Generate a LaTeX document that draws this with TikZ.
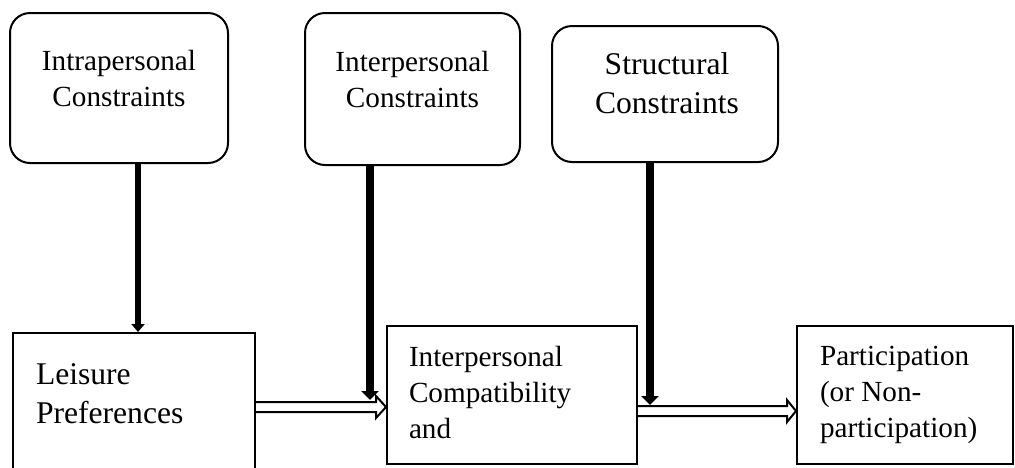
\documentclass[tikz,border=0pt]{standalone}
\usepackage{fontspec}
\setmainfont{Liberation Serif}
\usepackage{tikz}
\usetikzlibrary{arrows.meta,calc,positioning}

\begin{document}
\begin{tikzpicture}[x=0.5pt,y=-0.5pt,line width=1pt,
                    top node/.style={draw,rounded corners=10pt,inner sep=0pt},
                    bottom node/.style={draw,inner sep=0pt},
                    small text/.style={inner sep=0pt,font=\fontsize{14.6}{18}\selectfont},
                    big text/.style={inner sep=0pt,font=\fontsize{15.8}{19.5}\selectfont},
                    thin arrow/.style={-{Triangle[length=4pt,width=6.5pt]},line width=2.8pt},
                    thick arrow/.style={-{Triangle[length=4.5pt,width=8.5pt]},line width=4pt},
                    hollow arrow/.style={line width=1pt,line join=miter}]
  \useasboundingbox (0,0) rectangle (1015,467);
  % constraint boxes
  \node[top node,minimum width=109pt,minimum height=75pt] (intra) at (119,88) {};
  \node[top node,minimum width=107.5pt,minimum height=76pt] (inter) at (412.5,89) {};
  \node[top node,minimum width=113pt,minimum height=68pt] (struct) at (665,94) {};
  \node[small text,align=center,anchor=base] (intra text) at (119,106) {Intrapersonal\\Constraints};
  \node[small text,align=center,anchor=base] (inter text) at (412.5,107) {Interpersonal\\Constraints};
  \node[big text,align=center,anchor=base] (struct text) at (667,113) {Structural\\Constraints};
  % process boxes
  \node[bottom node,minimum width=121pt,minimum height=74pt] (leisure) at (134,407) {};
  \node[bottom node,minimum width=125pt,minimum height=69pt] (compat) at (512,395) {};
  \node[bottom node,minimum width=108pt,minimum height=69pt] (partic) at (905,395) {};
  \node[big text,align=left,anchor=base west] (leisure text) at (35,423) {Leisure\\Preferences};
  \node[small text,align=left,anchor=base west] (compat text) at (408,438) {Interpersonal\\Compatibility\\and};
  \node[small text,align=left,anchor=base west] (partic text) at (819,437) {Participation\\(or Non-\\participation)};
  % arrows
  \coordinate (drop) at ($(intra.south)+(19,0)$);
  \coordinate (join1) at (370,400);
  \coordinate (join2) at (650,405);
  \coordinate (from2) at ($(compat.east)+(0,16)$);
  \coordinate (tip1) at (leisure.east -| compat.west);
  \coordinate (tip2) at (from2 -| partic.west);
  \draw[hollow arrow] ($(leisure.east)+(0,-5)$) -- ($(tip1)+(-10,-5)$) -- ++(0,-6) -- (tip1)
        -- ++(-10,11) -- ++(0,-6) -- ($(leisure.east)+(0,5)$);
  \draw[hollow arrow] ($(from2)+(0,-5)$) -- ($(tip2)+(-9,-5)$) -- ++(0,-6) -- (tip2)
        -- ++(-9,11) -- ++(0,-6) -- ($(from2)+(0,5)$);
  \draw[thin arrow] (drop) -- (drop |- leisure.north);
  \draw[thick arrow] (inter.south -| join1) -- (join1);
  \draw[thick arrow] (struct.south -| join2) -- (join2);
\end{tikzpicture}
\end{document}
